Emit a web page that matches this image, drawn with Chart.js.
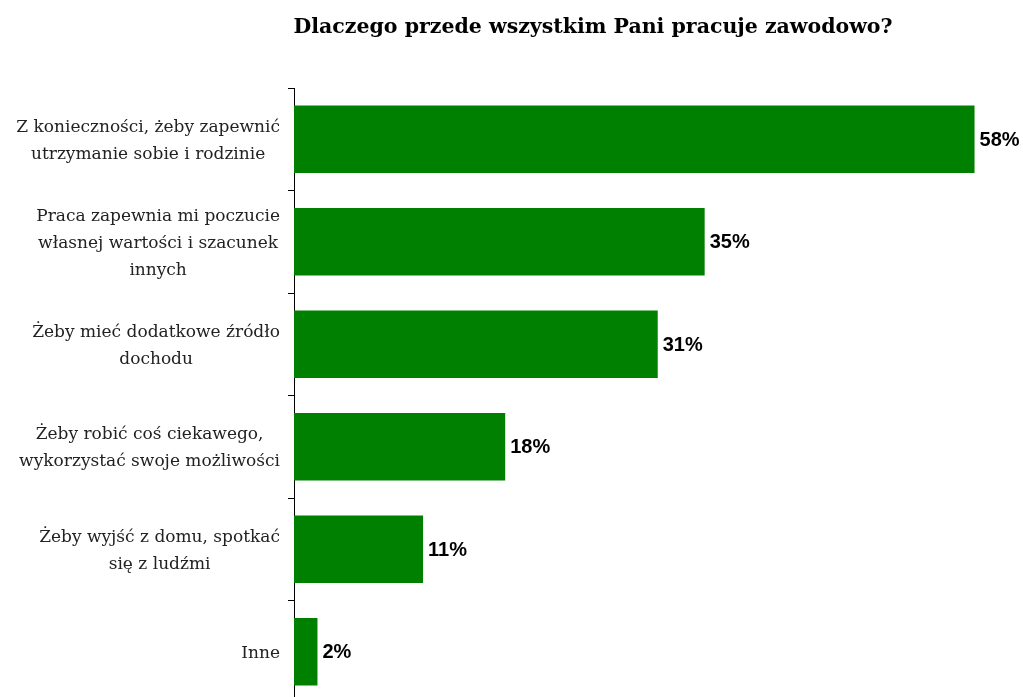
<!DOCTYPE html>
<html>
<head>
<meta charset="utf-8">
<script src="https://cdn.jsdelivr.net/npm/chart.js@4/dist/chart.umd.min.js"></script>
<style>
  html, body { margin: 0; padding: 0; background: #fff; overflow: hidden; }
  #wrap { width: 1023px; height: 703px; }
</style>
</head>
<body>
<div id="wrap"><canvas id="reasonsChart"></canvas></div>
<script>
const chartTitle = 'Dlaczego przede wszystkim Pani pracuje zawodowo?';

const categories = [
    ['Z konieczności, żeby zapewnić', 'utrzymanie sobie i rodzinie'],
    ['Praca zapewnia mi poczucie', 'własnej wartości i szacunek', 'innych'],
    ['Żeby mieć dodatkowe źródło', 'dochodu'],
    ['Żeby robić coś ciekawego,', 'wykorzystać swoje możliwości'],
    ['Żeby wyjść z domu, spotkać', 'się z ludźmi'],
    ['Inne']
];

const percentages = [58, 35, 31, 18, 11, 2];

const labelFont = '17px "DejaVu Serif", serif';
const valueFont = 'bold 20px "Liberation Sans", Arial, sans-serif';

// title, wrapped category labels and value labels drawn on the canvas
const customText = {
    id: 'customText',
    afterDraw(chart) {
        const ctx = chart.ctx;
        const yScale = chart.scales.y;
        ctx.save();

        ctx.font = 'bold 20.5px "DejaVu Serif", serif';
        ctx.fillStyle = '#000';
        ctx.textAlign = 'center';
        ctx.textBaseline = 'middle';
        ctx.fillText(chartTitle, 593, 28);

        ctx.font = labelFont;
        ctx.fillStyle = '#222';
        const lineHeight = 27;
        categories.forEach((lines, i) => {
            const widest = Math.max(...lines.map(l => ctx.measureText(l).width));
            const cx = 280 - widest / 2;
            const cy = yScale.getPixelForTick(i) + 1.5;
            const top = cy - (lines.length - 1) * lineHeight / 2;
            lines.forEach((line, j) => {
                ctx.fillText(line, cx, top + j * lineHeight);
            });
        });

        ctx.font = valueFont;
        ctx.fillStyle = '#000';
        ctx.textAlign = 'left';
        const meta = chart.getDatasetMeta(0);
        meta.data.forEach((bar, i) => {
            ctx.fillText(percentages[i] + '%', bar.x + 5, bar.y + 1);
        });
        ctx.restore();
    }
};

new Chart(document.getElementById('reasonsChart'), {
    type: 'bar',
    data: {
        labels: categories.map(c => c.join(' ')),
        datasets: [{
            data: percentages,
            backgroundColor: '#008000',
            borderWidth: 0,
            barPercentage: 0.66,
            categoryPercentage: 1
        }]
    },
    options: {
        indexAxis: 'y',
        responsive: true,
        maintainAspectRatio: false,
        animation: false,
        layout: {
            padding: { top: 88, right: 25, bottom: 0, left: 0 }
        },
        plugins: {
            legend: { display: false },
            title: { display: false },
            tooltip: { enabled: false }
        },
        scales: {
            x: {
                display: false,
                min: 0,
                max: 60
            },
            y: {
                offset: true,
                border: { display: true, color: '#000', width: 1 },
                grid: {
                    drawOnChartArea: false,
                    drawTicks: true,
                    tickLength: 6,
                    color: '#000'
                },
                ticks: { display: false },
                afterFit(scale) {
                    scale.width = 294;
                }
            }
        }
    },
    plugins: [customText]
});
</script>
</body>
</html>
